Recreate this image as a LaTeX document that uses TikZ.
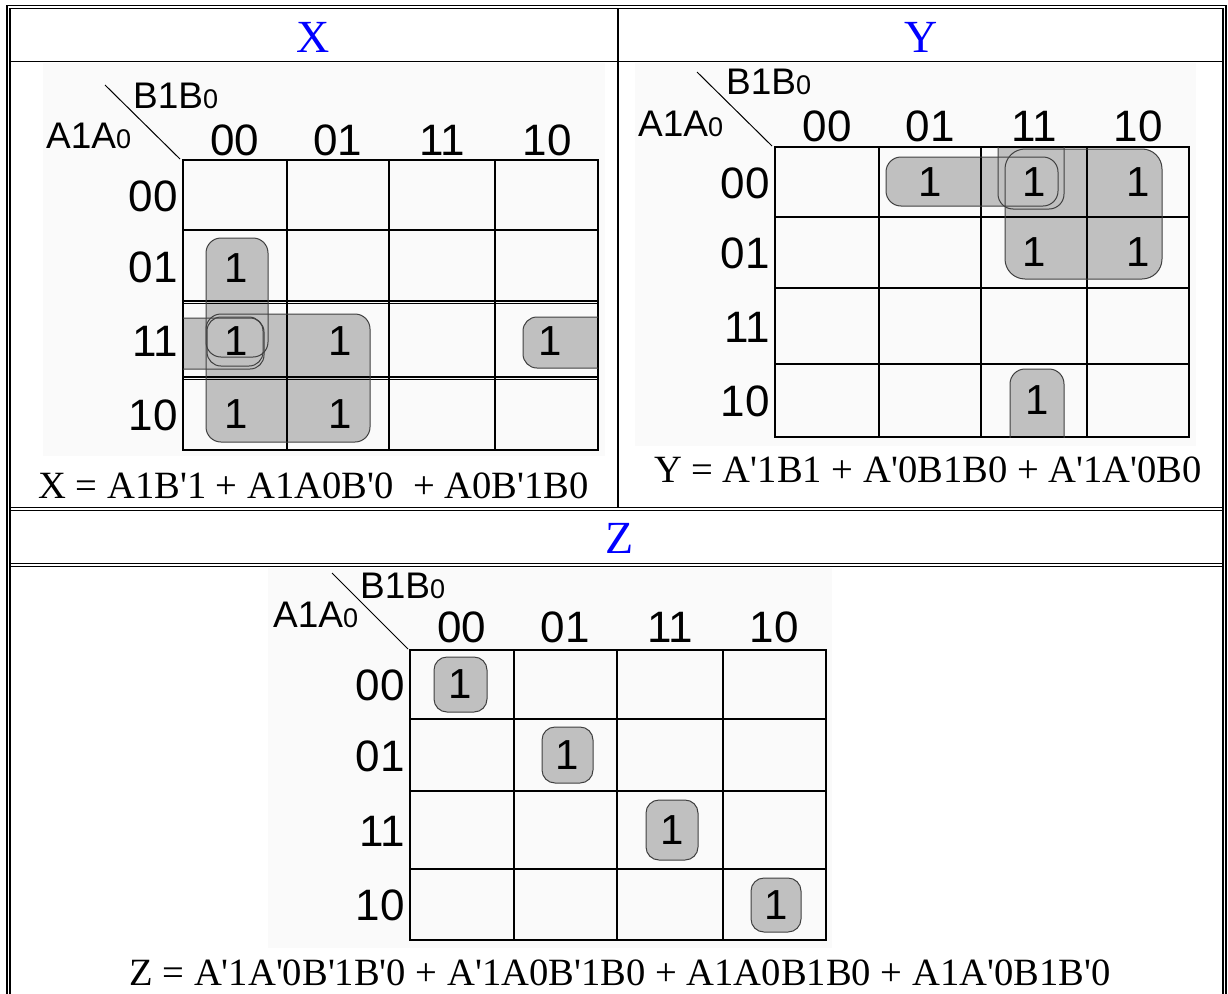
\documentclass[tikz,border=0pt]{standalone}
\usepackage{fontspec}
\newfontfamily\serf{Liberation Serif}
\newfontfamily\sanf{Liberation Sans}
\definecolor{grp}{HTML}{C0C0C0}
\definecolor{bmp}{HTML}{FAFAFA}
\definecolor{hdr}{HTML}{0000FF}
\definecolor{ol}{HTML}{404040}
\newcommand\apos{\textquotesingle}
\newcommand\smz{{\fontsize{27}{27}\selectfont 0}}
\tikzset{
 hdrtxt/.style={font=\serf\fontsize{46}{46}\selectfont, text=hdr, inner sep=0pt, anchor=base},
 eqtxt/.style={font=\serf\fontsize{38.6}{38.6}\selectfont, inner sep=0pt},
 lbl/.style={font=\sanf\fontsize{44}{44}\selectfont, inner sep=0pt, anchor=base},
 rlbl/.style={font=\sanf\fontsize{44}{44}\selectfont, inner sep=0pt, anchor=base east},
 one/.style={font=\sanf\fontsize{42}{42}\selectfont, inner sep=0pt},
 axislbl/.style={font=\sanf\fontsize{37}{37}\selectfont, inner sep=0pt, anchor=base west},
 gline/.style={draw=ol, line width=1},
 gridline/.style={line width=1.4},
 frameline/.style={line width=1.6},
 cellline/.style={line width=1.1},
 diag/.style={line width=1},
}
\begin{document}
\begin{tikzpicture}[x=1pt,y=-1pt]
\useasboundingbox (0,0) rectangle (1228,993);
\clip (0,0) rectangle (1228,993);
\fill[white] (0,0) rectangle (1228,993);
% bitmap backgrounds
\fill[bmp] (43,63) rectangle (605,456);
\fill[bmp] (635,63) rectangle (1196,446);
\fill[bmp] (268,568) rectangle (832,948);
% table frame
\draw[frameline] (7,1000) -- (7,5.5) -- (1226,5.5);
\draw[line width=2.2] (1226.3,5) -- (1226.3,1000);
\draw[cellline] (10,1000) -- (10,8.5) -- (1223,8.5) -- (1223,1000);
\draw[cellline] (10,61.5) -- (1223,61.5);
\draw[cellline] (618,9) -- (618,507);
\draw[frameline] (10,507.5) -- (1223,507.5);
\draw[cellline] (10,510.5) -- (1223,510.5);
\draw[frameline] (10,563.5) -- (1223,563.5);
\draw[cellline] (10,566.5) -- (1223,566.5);
% headers
\node[hdrtxt] (hx) at (313,52) {X};
\node[hdrtxt] (hy) at (921,52) {Y};
\node[hdrtxt] (hz) at (620,553) {Z};

% ================= X map =================
\fill[grp, rounded corners=15] (206,238) rectangle (268,357);
\fill[grp, rounded corners=15] (206,314) rectangle (370,442);
\begin{scope}
\clip (183,160) rectangle (598,450);
\fill[grp, rounded corners=14] (140,318) rectangle (264,369);
\fill[grp, rounded corners=14] (523,317) rectangle (650,368);
\end{scope}
\draw[gridline] (183,160) rectangle (598,450);
\draw[gridline] (287,160) -- (287,450) (389,160) -- (389,450) (495,160) -- (495,450);
\draw[gridline] (183,230) -- (598,230);
\draw[cellline] (183,301) -- (598,301) (183,303.5) -- (598,303.5);
\draw[cellline] (183,377) -- (598,377) (183,379.5) -- (598,379.5);
\draw[gline, rounded corners=15] (206,238) rectangle (268,357);
\draw[gline, rounded corners=15] (206,314) rectangle (370,442);
\draw[gline, rounded corners=14] (207,317) rectangle (263,366);
\begin{scope}
\clip (183,160) rectangle (598,450);
\draw[gline, rounded corners=14] (140,318) rectangle (264,369);
\draw[gline, rounded corners=14] (523,317) rectangle (650,368);
\end{scope}
\draw[diag] (105,85) -- (180,159);
\node[axislbl] (xb) at (133,108) {B1B\smz};
\node[axislbl] (xa) at (46,148) {A1A\smz};
\node[lbl] (xc1) at (235,155) {00};
\node[lbl] (xc2) at (338,155) {01};
\node[lbl] (xc3) at (442,155) {11};
\node[lbl] (xc4) at (547,155) {10};
\node[rlbl] (xr1) at (178,211) {00};
\node[rlbl] (xr2) at (178,282) {01};
\node[rlbl] (xr3) at (178,356) {11};
\node[rlbl] (xr4) at (178,430) {10};
\node[one] (x21) at (236,268) {1};
\node[one] (x31) at (236,341) {1};
\node[one] (x32) at (340,341) {1};
\node[one] (x34) at (550,341) {1};
\node[one] (x41) at (236,414) {1};
\node[one] (x42) at (340,414) {1};
\node[eqtxt, anchor=base west] (xeq) at (38,498) {X = A1B\apos1 + A1A0B\apos0~ + A0B\apos1B0};

% ================= Y map =================
\fill[grp, rounded corners=15] (886,157) rectangle (1058,206);
\fill[grp, rounded corners=20] (1005,149) rectangle (1162,279);
\begin{scope}
\clip (775,147) rectangle (1189,437);
\fill[grp, rounded corners=15] (998,100) rectangle (1064,209);
\fill[grp, rounded corners=15] (1010,369) rectangle (1064,480);
\end{scope}
\draw[gridline] (775,147) rectangle (1189,437);
\draw[gridline] (879,147) -- (879,437) (981,147) -- (981,437) (1087,147) -- (1087,437);
\draw[gridline] (775,217) -- (1189,217) (775,288) -- (1189,288) (775,364) -- (1189,364);
\draw[gline, rounded corners=15] (886,157) rectangle (1058,206);
\draw[gline, rounded corners=20] (1005,149) rectangle (1162,279);
\begin{scope}
\clip (775,147) rectangle (1189,437);
\draw[gline, rounded corners=15] (998,100) rectangle (1064,209);
\draw[gline, rounded corners=15] (1010,369) rectangle (1064,480);
\end{scope}
\draw[diag] (697,72) -- (772,146);
\node[axislbl] (yb) at (726,94) {B1B\smz};
\node[axislbl] (ya) at (638,136) {A1A\smz};
\node[lbl] (yc1) at (827,141) {00};
\node[lbl] (yc2) at (930,141) {01};
\node[lbl] (yc3) at (1034,141) {11};
\node[lbl] (yc4) at (1138,141) {10};
\node[rlbl] (yr1) at (770,198) {00};
\node[rlbl] (yr2) at (770,268) {01};
\node[rlbl] (yr3) at (770,342) {11};
\node[rlbl] (yr4) at (770,416) {10};
\node[one] (y12) at (930,182) {1};
\node[one] (y13) at (1034,182) {1};
\node[one] (y14) at (1138,182) {1};
\node[one] (y23) at (1034,252) {1};
\node[one] (y24) at (1138,252) {1};
\node[one] (y43) at (1037,400) {1};
\node[eqtxt, anchor=base east] (yeq) at (1202,482) {Y = A\apos1B1 + A\apos0B1B0 + A\apos1A\apos0B0};

% ================= Z map =================
\fill[grp, rounded corners=13] (434,657) rectangle (487,712);
\fill[grp, rounded corners=13] (542,727) rectangle (593,783);
\fill[grp, rounded corners=13] (646,800) rectangle (698,860);
\fill[grp, rounded corners=13] (751,878) rectangle (801,932);
\draw[gridline] (410,650) rectangle (826,940);
\draw[gridline] (514,650) -- (514,940) (617,650) -- (617,940) (723,650) -- (723,940);
\draw[gridline] (410,719) -- (826,719) (410,791) -- (826,791) (410,869) -- (826,869);
\draw[gline, rounded corners=13] (434,657) rectangle (487,712);
\draw[gline, rounded corners=13] (542,727) rectangle (593,783);
\draw[gline, rounded corners=13] (646,800) rectangle (698,860);
\draw[gline, rounded corners=13] (751,878) rectangle (801,932);
\draw[diag] (332,573) -- (408,649);
\node[axislbl] (zb) at (360,598) {B1B\smz};
\node[axislbl] (za) at (273,627) {A1A\smz};
\node[lbl] (zc1) at (462,642) {00};
\node[lbl] (zc2) at (565,642) {01};
\node[lbl] (zc3) at (670,642) {11};
\node[lbl] (zc4) at (774,642) {10};
\node[rlbl] (zr1) at (405,700) {00};
\node[rlbl] (zr2) at (405,771) {01};
\node[rlbl] (zr3) at (405,846) {11};
\node[rlbl] (zr4) at (405,920) {10};
\node[one] (z11) at (460,684) {1};
\node[one] (z22) at (567,755) {1};
\node[one] (z33) at (672,830) {1};
\node[one] (z44) at (776,905) {1};
\node[eqtxt, anchor=base] (zeq) at (620,985) {Z = A\apos1A\apos0B\apos1B\apos0 + A\apos1A0B\apos1B0 + A1A0B1B0 + A1A\apos0B1B\apos0};
\end{tikzpicture}
\end{document}
